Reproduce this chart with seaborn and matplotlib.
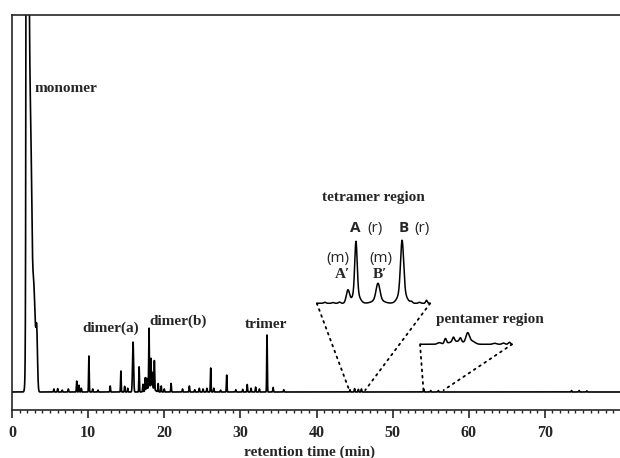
import numpy as np
import pandas as pd
import matplotlib
matplotlib.use('Agg')
import matplotlib.pyplot as plt
from matplotlib.ticker import MultipleLocator
from matplotlib.patches import ConnectionPatch
import seaborn as sns

# main trace: peaks (time in min, height, sigma in min)
peak_time = [1.9, 2.1, 2.45, 2.85, 3.25,
             5.5, 6.0, 6.6, 7.4, 8.5, 8.8, 9.1, 10.1, 10.6, 11.3, 12.9,
             14.3, 14.8, 15.2, 15.9, 16.7, 17.2, 17.5, 17.7, 18.0, 18.25,
             18.45, 18.7, 18.2, 19.2, 19.6, 20.0, 20.9, 22.4, 23.3, 24.0,
             24.6, 25.1, 25.6, 26.1, 26.5, 27.4, 28.2, 29.4, 30.3, 30.9,
             31.4, 32.0, 32.5, 33.5, 34.3, 35.7, 44.4, 45.0, 45.5, 45.9,
             54.1, 55.0, 56.0, 73.5, 74.5, 75.5]
peak_height = [150, 150, 60, 28, 14,
               0.8, 0.9, 0.5, 0.8, 2.9, 1.8, 1.0, 9.6, 0.8, 0.5, 1.6,
               5.6, 1.5, 1.0, 13.3, 6.7, 2.0, 3.5, 3.0, 15.7, 7.5,
               4.0, 7.7, 1.5, 2.2, 1.6, 0.8, 2.3, 0.8, 1.6, 0.6,
               1.0, 0.8, 1.0, 6.4, 1.0, 0.5, 4.5, 0.6, 0.7, 2.0,
               1.0, 1.3, 0.8, 15.2, 1.2, 0.6, 0.6, 0.9, 0.7, 0.8,
               0.7, 0.4, 0.4, 0.4, 0.4, 0.3]
peak_sigma = [0.06, 0.15, 0.15, 0.2, 0.1] + [0.04] * 14 + [0.07] + [0.04] * 8 + [0.4] + [0.04] * 33

# tetramer region (zoomed)
tetra_time = [44.45, 44.6, 44.72, 44.876, 45.025, 45.025, 45.433, 45.433,
              45.879, 45.879, 46.05, 46.2, 46.33]
tetra_height = [1.0, 0.8, 1.2, 13, 50, 12, 16, 4, 50, 13, 1.5, 1.0, 3.0]
tetra_sigma = [0.02, 0.02, 0.02, 0.03, 0.022, 0.06, 0.035, 0.09,
               0.028, 0.07, 0.02, 0.02, 0.015]

# pentamer region (zoomed)
penta_time = [54.6, 54.78, 55.01, 55.21, 55.1, 55.42, 55.55, 56.2, 56.45, 56.62]
penta_height = [1.5, 5, 4.5, 4, 3, 10, 3, 1, 1.2, 2]
penta_sigma = [0.05, 0.03, 0.03, 0.03, 0.2, 0.05, 0.08, 0.05, 0.04, 0.03]


def trace(t, times, heights, sigmas):
    y = np.zeros_like(t)
    for t0, h, s in zip(times, heights, sigmas):
        y += h * np.exp(-0.5 * ((t - t0) / s) ** 2)
    return pd.DataFrame({'time': t, 'signal': y})


main_df = trace(np.arange(0, 80, 0.005), peak_time, peak_height, peak_sigma)
tetra_df = trace(np.arange(44.3, 46.4, 0.002), tetra_time, tetra_height, tetra_sigma)
penta_df = trace(np.arange(54.05, 56.7, 0.002), penta_time, penta_height, penta_sigma)

sns.set_style('ticks')
plt.rcParams['font.family'] = ['Liberation Serif', 'DejaVu Serif']
plt.rcParams['font.weight'] = 'bold'

fig = plt.figure(figsize=(6.2, 4.58), dpi=100)
ax = fig.add_axes([12 / 620, 48 / 458, 609 / 620, 395 / 458])

sns.lineplot(data=main_df, x='time', y='signal', ax=ax, color='black',
             lw=1.2, estimator=None)
ax.set_xlim(0, 80)
ax.set_ylim(-4.8, 100.5)
ax.set_yticks([])
ax.set_ylabel('')
ax.set_xticks(range(0, 80, 10))
ax.xaxis.set_minor_locator(MultipleLocator(1))
ax.tick_params(axis='x', which='major', length=6, width=1.2, pad=5, labelsize=11.5)
ax.tick_params(axis='x', which='minor', length=2.5, width=1)
ax.set_xlabel('retention time (min)', fontsize=11, fontweight='bold', labelpad=3, x=0.489)
for s in ['left', 'top', 'bottom']:
    ax.spines[s].set_linewidth(1.2)
ax.spines['right'].set_visible(False)

# zoomed insets
ins_t = ax.inset_axes([40.04, 22.85, 14.9, 18.67], transform=ax.transData)
sns.lineplot(data=tetra_df, x='time', y='signal', ax=ins_t, color='black',
             lw=1.1, estimator=None)
ins_t.set_xlim(44.3, 46.4)
ins_t.set_ylim(-3, 67)
ins_t.axis('off')

ins_p = ax.inset_axes([53.6, 11.92, 12.1, 5.33], transform=ax.transData)
sns.lineplot(data=penta_df, x='time', y='signal', ax=ins_p, color='black',
             lw=1.1, estimator=None)
ins_p.set_xlim(54.05, 56.7)
ins_p.set_ylim(-3, 17)
ins_p.axis('off')

for ins, t0 in [(ins_t, 44.3), (ins_t, 46.4), (ins_p, 54.05), (ins_p, 56.7)]:
    con = ConnectionPatch(xyA=(t0, 0), coordsA=ins.transData,
                          xyB=(t0, 0.5), coordsB=ax.transData,
                          color='black', lw=1.3, linestyle=(0, (1, 2.5)))
    fig.add_artist(con)

# labels
fs = 11
ax.text(3.0, 81, 'monomer', fontsize=fs, ha='left', va='center')
ax.text(12.9, 17, 'dimer(a)', fontsize=fs, ha='center', va='center')
ax.text(21.75, 18.8, 'dimer(b)', fontsize=fs, ha='center', va='center')
ax.text(33.4, 18.1, 'trimer', fontsize=fs, ha='center', va='center')
ax.text(47.5, 51.9, 'tetramer region', fontsize=fs, ha='center', va='center')
ax.text(62.8, 19.2, 'pentamer region', fontsize=fs, ha='center', va='center')

sans = ['Open Sans', 'DejaVu Sans']
ax.text(45.1, 43.6, 'A', fontsize=11, fontweight='bold', family=sans, ha='center', va='center')
ax.text(47.7, 43.6, '(r)', fontsize=11, fontweight='normal', family=sans, ha='center', va='center')
ax.text(51.5, 43.6, 'B', fontsize=11, fontweight='bold', family=sans, ha='center', va='center')
ax.text(53.9, 43.6, '(r)', fontsize=11, fontweight='normal', family=sans, ha='center', va='center')
ax.text(42.8, 35.7, '(m)', fontsize=11, fontweight='normal', family=sans, ha='center', va='center')
ax.text(48.4, 35.7, '(m)', fontsize=11, fontweight='normal', family=sans, ha='center', va='center')
ax.text(43.4, 31.2, 'A\u2032', fontsize=11, fontweight='bold', ha='center', va='center')
ax.text(48.4, 31.2, 'B\u2032', fontsize=11, fontweight='bold', ha='center', va='center')

fig.savefig('out.png', dpi=100)
